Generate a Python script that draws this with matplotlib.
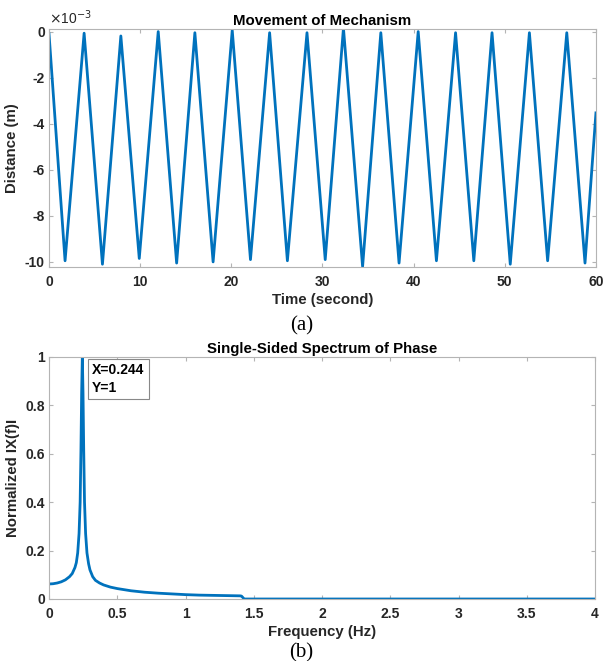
import matplotlib
matplotlib.use('Agg')
import matplotlib.pyplot as plt

plt.rcParams['font.family'] = ['Liberation Sans', 'DejaVu Sans']
plt.rcParams['axes.unicode_minus'] = False

# --- (a) movement of mechanism: turning points of the triangle wave ---
# time in seconds, distance in units of 1e-3 m
time_s = [0, 1.76, 3.85, 5.86, 7.88, 9.9, 11.98, 14.0, 16.0, 18.0, 20.1, 22.1,
          24.2, 26.15, 28.3, 30.3, 32.3, 34.4, 36.4, 38.4, 40.5, 42.5, 44.6,
          46.6, 48.6, 50.6, 52.7, 54.7, 56.8, 58.8, 60]
dist_mm = [-0.1, -9.95, -0.07, -10.1, -0.19, -9.85, 0.0, -10.05, -0.05, -10.0,
           0.05, -9.9, -0.05, -9.95, -0.05, -9.9, 0.15, -10.2, -0.05, -10.05,
           0.0, -9.95, -0.05, -9.95, -0.05, -10.1, -0.05, -9.95, -0.05, -10.05,
           -3.53]

# --- (b) single sided spectrum ---
freq_hz = [0, 0.03, 0.06, 0.09, 0.12, 0.15, 0.17, 0.19, 0.20, 0.21, 0.22,
           0.228, 0.234, 0.239, 0.244, 0.249, 0.254, 0.26, 0.268, 0.278, 0.29,
           0.30, 0.32, 0.34, 0.37, 0.40, 0.45, 0.5, 0.6, 0.7, 0.8, 0.9, 1.0,
           1.1, 1.2, 1.3, 1.4, 1.41, 1.43, 2.0, 3.0, 4.0]
norm_amp = [0.062, 0.063, 0.066, 0.071, 0.079, 0.092, 0.105, 0.13, 0.15, 0.19, 0.27,
            0.4, 0.62, 0.85, 1.0, 0.85, 0.62, 0.4, 0.27, 0.19, 0.145,
            0.12, 0.092, 0.077, 0.066, 0.058, 0.049, 0.043, 0.034, 0.028, 0.024, 0.021, 0.018,
            0.016, 0.015, 0.014, 0.013, 0.012, 0.0, 0.0, 0.0, 0.0]

blue = '#0072BD'
edge = '#b4b4b4'
txt = '#262626'

fig = plt.figure(figsize=(6.03, 6.61), dpi=100)

def style(ax):
    for s in ax.spines.values():
        s.set_color(edge)
        s.set_linewidth(0.8)
    ax.tick_params(direction='in', length=3, color=edge, labelsize=10,
                   labelcolor=txt, top=True, right=True)
    ax.tick_params(axis='x', pad=6)
    ax.tick_params(axis='y', pad=3)
    for lab in ax.get_xticklabels() + ax.get_yticklabels():
        lab.set_fontweight('bold')

# top panel
ax1 = fig.add_axes([0.0813, 0.5968, 0.907, 0.3589])
ax1.plot(time_s, dist_mm, color=blue, linewidth=2.0)
ax1.set_xlim(0, 60)
ax1.set_ylim(-10.2, 0.1)
ax1.set_xticks([0, 10, 20, 30, 40, 50, 60])
ax1.set_yticks([-10, -8, -6, -4, -2, 0])
style(ax1)
ax1.set_title('Movement of Mechanism', fontsize=10.8, fontweight='bold', color='black', pad=3)
ax1.set_xlabel('Time (second)', fontsize=10.8, fontweight='bold', color=txt, labelpad=3)
ax1.set_ylabel('Distance (m)', fontsize=10.8, fontweight='bold', color=txt, labelpad=4)
ax1.text(0.0, 1.01, r'$\times$10$^{-3}$', transform=ax1.transAxes, fontsize=10,
         color=txt, ha='left', va='bottom')
fig.text(0.5, 0.507, '(a)', fontsize=15, family='Liberation Serif', ha='center', va='center')

# bottom panel
ax2 = fig.add_axes([0.0813, 0.0938, 0.9055, 0.3666])
ax2.plot(freq_hz, norm_amp, color=blue, linewidth=2.0)
ax2.set_xlim(0, 4)
ax2.set_ylim(0, 1)
ax2.set_xticks([0, 0.5, 1, 1.5, 2, 2.5, 3, 3.5, 4])
ax2.set_xticklabels(['0', '0.5', '1', '1.5', '2', '2.5', '3', '3.5', '4'])
ax2.set_yticks([0, 0.2, 0.4, 0.6, 0.8, 1])
ax2.set_yticklabels(['0', '0.2', '0.4', '0.6', '0.8', '1'])
style(ax2)
ax2.set_title('Single-Sided Spectrum of Phase', fontsize=10.8, fontweight='bold', color='black', pad=3)
ax2.set_xlabel('Frequency (Hz)', fontsize=10.8, fontweight='bold', color=txt, labelpad=3)
ax2.set_ylabel('Normalized IX(f)I', fontsize=10.8, fontweight='bold', color=txt, labelpad=4)
ax2.text(0.315, 0.975, 'X=0.244\nY=1', fontsize=10, fontweight='bold', color='black',
         ha='left', va='top', linespacing=1.35,
         bbox=dict(boxstyle='square,pad=0.3', facecolor='white', edgecolor='#888888', linewidth=0.8))
fig.text(0.5, 0.013, '(b)', fontsize=15, family='Liberation Serif', ha='center', va='center')

fig.savefig('out.png', dpi=100)
